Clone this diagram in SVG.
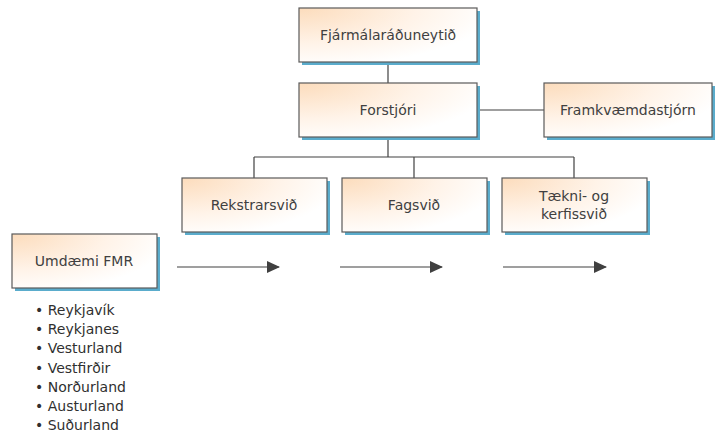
<svg xmlns="http://www.w3.org/2000/svg" width="715" height="436" viewBox="0 0 715 436">
<style>
.box{fill:url(#g);stroke:#5a5a5a;stroke-width:1.2}
.sh{fill:#5aaccc}
.t{font-family:"DejaVu Sans",Verdana,sans-serif;font-size:14px;fill:#404040;text-anchor:middle}
.l{font-family:"DejaVu Sans",Verdana,sans-serif;font-size:14px;fill:#303030}
.c{stroke:#404040;stroke-width:1.2;fill:none}
</style>
<defs>
<radialGradient id="g" cx="0" cy="0" r="1.1" gradientUnits="objectBoundingBox">
<stop offset="0" stop-color="#fcdcbc"/>
<stop offset="0.6" stop-color="#fff3e8"/>
<stop offset="1" stop-color="#ffffff"/>
</radialGradient>
<marker id="a" markerWidth="13" markerHeight="12" refX="12" refY="6" orient="auto" markerUnits="userSpaceOnUse">
<path d="M0,0 L13,6 L0,12 z" fill="#404040"/>
</marker>
</defs>
<g id="connectors">
<line class="c" x1="388" y1="62" x2="388" y2="83"/>
<line class="c" x1="477" y1="110" x2="544" y2="110"/>
<line class="c" x1="388" y1="137" x2="388" y2="157"/>
<line class="c" x1="254" y1="157" x2="574" y2="157"/>
<line class="c" x1="254" y1="157" x2="254" y2="178"/>
<line class="c" x1="414" y1="157" x2="414" y2="178"/>
<line class="c" x1="574" y1="157" x2="574" y2="178"/>
<line class="c" x1="177" y1="267" x2="279" y2="267" marker-end="url(#a)"/>
<line class="c" x1="340" y1="267" x2="442" y2="267" marker-end="url(#a)"/>
<line class="c" x1="503" y1="267" x2="606" y2="267" marker-end="url(#a)"/>
</g>
<g id="fjarmalaraduneytid">
<rect class="sh" x="302" y="11" width="178" height="54"/>
<rect class="box" x="299" y="8" width="178" height="54"/>
<text class="t" x="388" y="40">Fjármálaráðuneytið</text>
</g>
<g id="forstjori">
<rect class="sh" x="302" y="86" width="178" height="54"/>
<rect class="box" x="299" y="83" width="178" height="54"/>
<text class="t" x="388" y="115">Forstjóri</text>
</g>
<g id="framkvaemdastjorn">
<rect class="sh" x="547" y="86" width="168" height="54"/>
<rect class="box" x="544" y="83" width="168" height="54"/>
<text class="t" x="628" y="115">Framkvæmdastjórn</text>
</g>
<g id="rekstrarsvid">
<rect class="sh" x="185" y="181" width="145" height="54"/>
<rect class="box" x="182" y="178" width="145" height="54"/>
<text class="t" x="254" y="210">Rekstrarsvið</text>
</g>
<g id="fagsvid">
<rect class="sh" x="345" y="181" width="145" height="54"/>
<rect class="box" x="342" y="178" width="145" height="54"/>
<text class="t" x="414" y="210">Fagsvið</text>
</g>
<g id="taekni">
<rect class="sh" x="505" y="181" width="145" height="54"/>
<rect class="box" x="502" y="178" width="145" height="54"/>
<text class="t" x="574" y="201">Tækni- og</text>
<text class="t" x="574" y="219">kerfissvið</text>
</g>
<g id="umdaemi">
<rect class="sh" x="15" y="237" width="145" height="54"/>
<rect class="box" x="12" y="234" width="145" height="54"/>
<text class="t" x="84" y="266">Umdæmi FMR</text>
</g>
<g id="list">
<text class="l" x="35" y="315">• Reykjavík</text>
<text class="l" x="35" y="334">• Reykjanes</text>
<text class="l" x="35" y="353">• Vesturland</text>
<text class="l" x="35" y="373">• Vestfirðir</text>
<text class="l" x="35" y="392">• Norðurland</text>
<text class="l" x="35" y="411">• Austurland</text>
<text class="l" x="35" y="430">• Suðurland</text>
</g>
</svg>
